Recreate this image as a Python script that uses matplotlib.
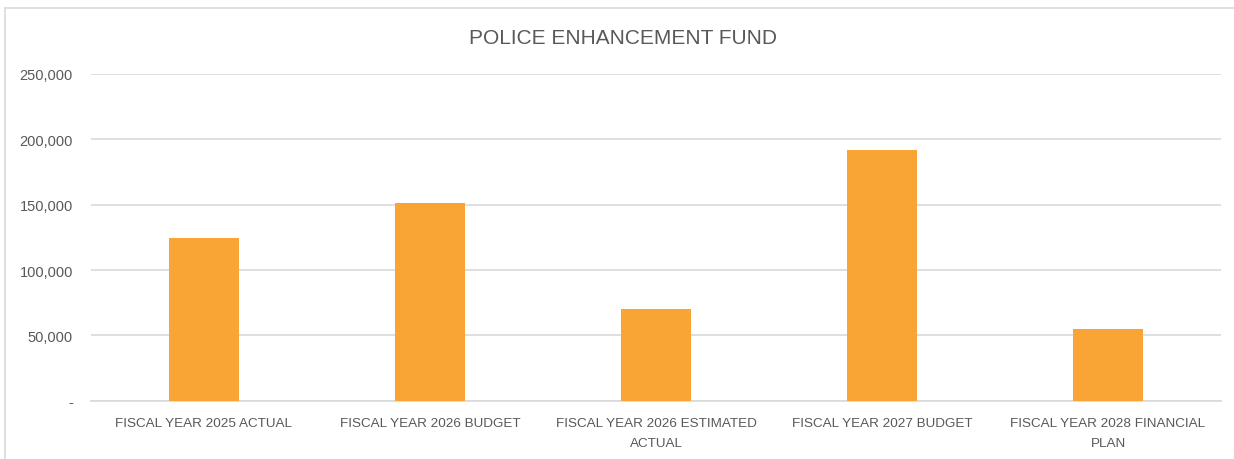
import matplotlib.pyplot as plt
from matplotlib.patches import Rectangle
from matplotlib.ticker import FuncFormatter

categories = [
    "FISCAL YEAR 2025 ACTUAL",
    "FISCAL YEAR 2026 BUDGET",
    "FISCAL YEAR 2026 ESTIMATED\nACTUAL",
    "FISCAL YEAR 2027 BUDGET",
    "FISCAL YEAR 2028 FINANCIAL\nPLAN",
]
amounts = [124200, 151000, 70400, 191800, 54800]
y_ticks = [0, 50000, 100000, 150000, 200000, 250000]

text_gray = "#595959"
grid_gray = "#d9d9d9"
bar_orange = "#F8A535"

plt.rcParams["font.family"] = ["Liberation Sans", "DejaVu Sans"]

fig = plt.figure(figsize=(12.34, 4.6), dpi=100)
ax = fig.add_axes([0.0737, 0.1267, 0.9158, 0.7103])

x = range(len(categories))
ax.bar(x, amounts, width=0.31, color=bar_orange, zorder=3)

ax.set_xlim(-0.5, len(categories) - 0.5)
ax.set_ylim(0, 250000)
ax.set_yticks(y_ticks)
ax.yaxis.set_major_formatter(
    FuncFormatter(lambda v, _: "-" if v == 0 else f"{int(v):,}")
)
ax.set_xticks(list(x))
ax.set_xticklabels(categories, linespacing=1.9)

ax.grid(axis="y", color=grid_gray, linewidth=1.2, zorder=0)
for side in ["top", "right", "left"]:
    ax.spines[side].set_visible(False)
ax.spines["bottom"].set_color(grid_gray)
ax.spines["bottom"].set_linewidth(1.2)

ax.tick_params(axis="y", length=0, pad=13, labelsize=10.5, labelcolor=text_gray)
ax.tick_params(axis="x", length=0, pad=12, labelsize=9.7, labelcolor=text_gray)
for lbl in ax.get_xticklabels():
    lbl.set_verticalalignment("top")

fig.text(0.5045, 0.917, "POLICE ENHANCEMENT FUND", ha="center", va="center",
         fontsize=15, color=text_gray)

# chart area border, open to the right and bottom
fig.patches.append(Rectangle((5 / 1234, -0.1), 1.2, 1.1 - 9 / 460,
                             transform=fig.transFigure, fill=False,
                             edgecolor=grid_gray, linewidth=1.2))

fig.savefig("out.png", dpi=100, facecolor="white")
